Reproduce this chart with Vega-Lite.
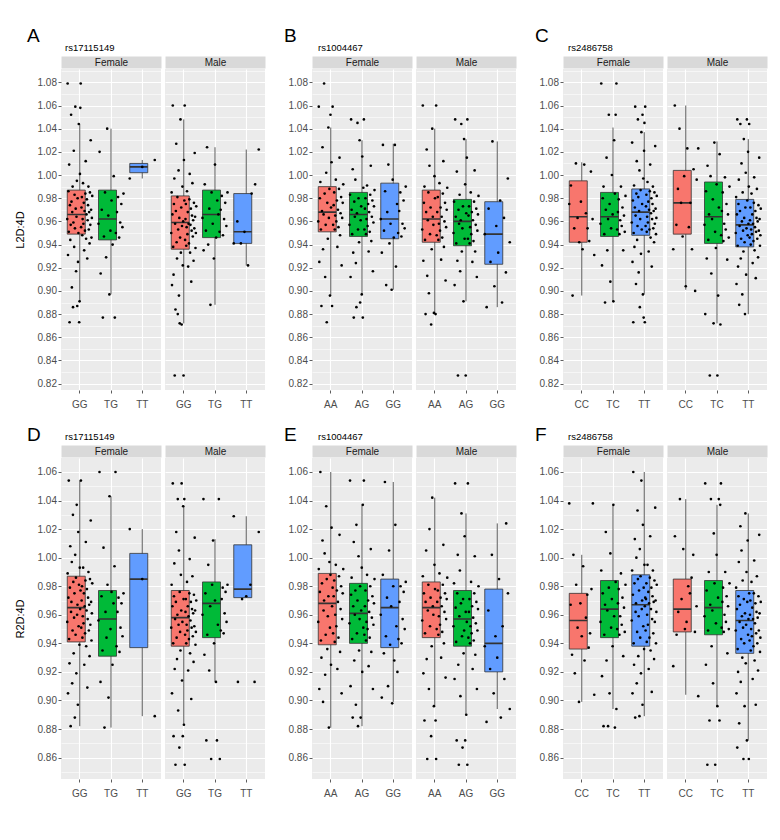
{
"$schema":"https://vega.github.io/schema/vega-lite/v6.json",
"autosize":{"type":"none"},
"padding":{"left":61,"top":69,"right":719,"bottom":771},
"background":"white",
"config":{
 "font":"Liberation Sans Narrow, Liberation Sans, Arial, sans-serif",
 "view":{"fill":"#EBEBEB","stroke":null},
 "axis":{"domain":false,"grid":true,"gridColor":"#FFFFFF","tickColor":"#333333","tickSize":3,"tickWidth":0.8,"labelColor":"#4D4D4D","labelFontSize":10,"titleFontSize":11,"titleFontWeight":"normal","titleColor":"#000000"},
 "axisX":{"labelAngle":0,"labelPadding":6,"gridWidth":1.1,"bandPosition":0.5},
 "axisY":{"labelPadding":1.5,"titlePadding":12,"labelOverlap":false,"tickCount":100},
 "title":{"fontWeight":"normal","color":"#000000","anchor":"start","frame":"group"}
},
"datasets":{
"box":[
{"p":"A","s":"F","g":"GG","lo":0.891,"q1":0.949,"md":0.966,"q3":0.987,"hi":1.044},
{"p":"A","s":"F","g":"TG","lo":0.897,"q1":0.944,"md":0.962,"q3":0.987,"hi":1.040},
{"p":"A","s":"F","g":"TT","lo":0.997,"q1":1.002,"md":1.007,"q3":1.010,"hi":1.013},
{"p":"A","s":"M","g":"GG","lo":0.872,"q1":0.936,"md":0.959,"q3":0.982,"hi":1.048},
{"p":"A","s":"M","g":"TG","lo":0.888,"q1":0.946,"md":0.966,"q3":0.987,"hi":1.024},
{"p":"A","s":"M","g":"TT","lo":0.922,"q1":0.941,"md":0.951,"q3":0.984,"hi":1.022},
{"p":"B","s":"F","g":"AA","lo":0.896,"q1":0.951,"md":0.968,"q3":0.990,"hi":1.041},
{"p":"B","s":"F","g":"AG","lo":0.897,"q1":0.947,"md":0.966,"q3":0.985,"hi":1.030},
{"p":"B","s":"F","g":"GG","lo":0.901,"q1":0.945,"md":0.962,"q3":0.993,"hi":1.027},
{"p":"B","s":"M","g":"AA","lo":0.881,"q1":0.942,"md":0.962,"q3":0.987,"hi":1.040},
{"p":"B","s":"M","g":"AG","lo":0.891,"q1":0.939,"md":0.960,"q3":0.979,"hi":1.031},
{"p":"B","s":"M","g":"GG","lo":0.886,"q1":0.923,"md":0.949,"q3":0.977,"hi":1.029},
{"p":"C","s":"F","g":"CC","lo":0.896,"q1":0.942,"md":0.964,"q3":0.995,"hi":1.011},
{"p":"C","s":"F","g":"TC","lo":0.891,"q1":0.947,"md":0.964,"q3":0.985,"hi":1.041},
{"p":"C","s":"F","g":"TT","lo":0.897,"q1":0.948,"md":0.968,"q3":0.988,"hi":1.037},
{"p":"C","s":"M","g":"CC","lo":0.901,"q1":0.949,"md":0.976,"q3":1.004,"hi":1.060},
{"p":"C","s":"M","g":"TC","lo":0.872,"q1":0.941,"md":0.964,"q3":0.994,"hi":1.029},
{"p":"C","s":"M","g":"TT","lo":0.880,"q1":0.938,"md":0.957,"q3":0.979,"hi":1.031},
{"p":"D","s":"F","g":"GG","lo":0.882,"q1":0.941,"md":0.965,"q3":0.987,"hi":1.054},
{"p":"D","s":"F","g":"TG","lo":0.881,"q1":0.931,"md":0.957,"q3":0.977,"hi":1.043},
{"p":"D","s":"F","g":"TT","lo":0.889,"q1":0.937,"md":0.985,"q3":1.003,"hi":1.020},
{"p":"D","s":"M","g":"GG","lo":0.883,"q1":0.938,"md":0.958,"q3":0.977,"hi":1.036},
{"p":"D","s":"M","g":"TG","lo":0.913,"q1":0.944,"md":0.968,"q3":0.983,"hi":1.013},
{"p":"D","s":"M","g":"TT","lo":0.972,"q1":0.972,"md":0.978,"q3":1.009,"hi":1.029},
{"p":"E","s":"F","g":"AA","lo":0.881,"q1":0.939,"md":0.968,"q3":0.989,"hi":1.060},
{"p":"E","s":"F","g":"AG","lo":0.882,"q1":0.940,"md":0.961,"q3":0.982,"hi":1.037},
{"p":"E","s":"F","g":"GG","lo":0.899,"q1":0.937,"md":0.965,"q3":0.985,"hi":1.053},
{"p":"E","s":"M","g":"AA","lo":0.896,"q1":0.944,"md":0.965,"q3":0.983,"hi":1.042},
{"p":"E","s":"M","g":"AG","lo":0.890,"q1":0.938,"md":0.957,"q3":0.977,"hi":1.031},
{"p":"E","s":"M","g":"GG","lo":0.894,"q1":0.920,"md":0.940,"q3":0.978,"hi":1.024},
{"p":"F","s":"F","g":"CC","lo":0.899,"q1":0.936,"md":0.956,"q3":0.975,"hi":1.002},
{"p":"F","s":"F","g":"TC","lo":0.894,"q1":0.944,"md":0.964,"q3":0.984,"hi":1.037},
{"p":"F","s":"F","g":"TT","lo":0.889,"q1":0.938,"md":0.967,"q3":0.988,"hi":1.060},
{"p":"F","s":"M","g":"CC","lo":0.904,"q1":0.948,"md":0.964,"q3":0.985,"hi":1.041},
{"p":"F","s":"M","g":"TC","lo":0.896,"q1":0.946,"md":0.965,"q3":0.984,"hi":1.037},
{"p":"F","s":"M","g":"TT","lo":0.872,"q1":0.933,"md":0.956,"q3":0.977,"hi":1.031}
],
"AF":[
{"g":"GG","v":0.962},{"g":"GG","v":1.079},{"g":"GG","v":0.931},{"g":"GG","v":0.986},{"g":"GG","v":0.951},{"g":"GG","v":1.009},{"g":"GG","v":0.873},{"g":"GG","v":0.974},{"g":"GG","v":0.944},{"g":"GG","v":0.957},{"g":"GG","v":1.052},{"g":"GG","v":0.977},{"g":"GG","v":0.903},{"g":"GG","v":0.968},{"g":"GG","v":0.99},{"g":"GG","v":0.886},{"g":"GG","v":0.959},{"g":"GG","v":1.021},{"g":"GG","v":0.938},{"g":"GG","v":0.983},{"g":"GG","v":0.954},{"g":"GG","v":1.059},{"g":"GG","v":0.971},{"g":"GG","v":0.917},{"g":"GG","v":0.964},{"g":"GG","v":0.995},{"g":"GG","v":0.887},{"g":"GG","v":0.98},{"g":"GG","v":0.925},{"g":"GG","v":0.95},{"g":"GG","v":1.044},{"g":"GG","v":0.873},{"g":"GG","v":0.891},{"g":"GG","v":1.001},{"g":"GG","v":1.058},{"g":"GG","v":1.079},
{"g":"GG","v":0.955},{"g":"GG","v":0.972},{"g":"GG","v":0.981},{"g":"GG","v":0.948},{"g":"GG","v":0.962},{"g":"GG","v":0.993},{"g":"GG","v":0.958},{"g":"GG","v":0.976},{"g":"GG","v":0.935},{"g":"GG","v":0.969},{"g":"GG","v":0.952},{"g":"GG","v":0.984},{"g":"GG","v":1.012},{"g":"GG","v":0.945},{"g":"GG","v":0.966},{"g":"GG","v":0.979},{"g":"GG","v":0.928},{"g":"GG","v":0.961},{"g":"GG","v":0.974},{"g":"GG","v":0.99},{"g":"GG","v":0.953},{"g":"GG","v":0.968},{"g":"GG","v":0.941},{"g":"GG","v":0.985},{"g":"GG","v":0.957},{"g":"GG","v":1.03},{"g":"GG","v":0.97},{"g":"GG","v":0.946},{"g":"GG","v":0.963},{"g":"GG","v":0.982},
{"g":"TG","v":0.958},{"g":"TG","v":1.02},{"g":"TG","v":0.915},{"g":"TG","v":0.97},{"g":"TG","v":0.877},{"g":"TG","v":0.947},{"g":"TG","v":0.985},{"g":"TG","v":0.929},{"g":"TG","v":1.04},{"g":"TG","v":0.965},{"g":"TG","v":0.897},{"g":"TG","v":0.952},{"g":"TG","v":0.978},{"g":"TG","v":0.94},{"g":"TG","v":0.999},{"g":"TG","v":0.877},
{"g":"TG","v":0.95},{"g":"TG","v":0.968},{"g":"TG","v":0.981},{"g":"TG","v":0.946},{"g":"TG","v":0.959},{"g":"TG","v":0.975},{"g":"TG","v":0.955},{"g":"TG","v":0.984},
{"g":"TT","v":0.997},{"g":"TT","v":1.007},{"g":"TT","v":1.013}
],
"AM":[
{"g":"GG","v":0.95},{"g":"GG","v":0.985},{"g":"GG","v":0.905},{"g":"GG","v":0.966},{"g":"GG","v":1.06},{"g":"GG","v":0.938},{"g":"GG","v":0.914},{"g":"GG","v":0.975},{"g":"GG","v":0.997},{"g":"GG","v":0.827},{"g":"GG","v":0.958},{"g":"GG","v":0.884},{"g":"GG","v":0.969},{"g":"GG","v":1.027},{"g":"GG","v":0.942},{"g":"GG","v":0.928},{"g":"GG","v":0.981},{"g":"GG","v":0.88},{"g":"GG","v":0.953},{"g":"GG","v":1.004},{"g":"GG","v":0.896},{"g":"GG","v":0.963},{"g":"GG","v":0.872},{"g":"GG","v":0.946},{"g":"GG","v":1.048},{"g":"GG","v":0.933},{"g":"GG","v":0.972},{"g":"GG","v":0.871},{"g":"GG","v":0.956},{"g":"GG","v":0.99},{"g":"GG","v":0.922},{"g":"GG","v":0.96},{"g":"GG","v":0.827},{"g":"GG","v":1.013},{"g":"GG","v":0.978},{"g":"GG","v":1.06},
{"g":"GG","v":0.944},{"g":"GG","v":0.962},{"g":"GG","v":0.975},{"g":"GG","v":0.939},{"g":"GG","v":0.955},{"g":"GG","v":0.986},{"g":"GG","v":0.949},{"g":"GG","v":0.968},{"g":"GG","v":0.921},{"g":"GG","v":0.958},{"g":"GG","v":0.941},{"g":"GG","v":0.979},{"g":"GG","v":1.001},{"g":"GG","v":0.933},{"g":"GG","v":0.957},{"g":"GG","v":0.971},{"g":"GG","v":0.908},{"g":"GG","v":0.952},{"g":"GG","v":0.965},{"g":"GG","v":0.993},{"g":"GG","v":0.947},{"g":"GG","v":0.961},{"g":"GG","v":0.926},{"g":"GG","v":0.976},{"g":"GG","v":0.954},{"g":"GG","v":1.019},{"g":"GG","v":0.964},{"g":"GG","v":0.937},{"g":"GG","v":0.95},{"g":"GG","v":0.973},
{"g":"TG","v":0.963},{"g":"TG","v":0.935},{"g":"TG","v":0.992},{"g":"TG","v":0.952},{"g":"TG","v":1.024},{"g":"TG","v":0.94},{"g":"TG","v":0.971},{"g":"TG","v":0.888},{"g":"TG","v":0.985},{"g":"TG","v":0.958},{"g":"TG","v":0.928},{"g":"TG","v":1.009},{"g":"TG","v":0.946},{"g":"TG","v":0.978},{"g":"TG","v":0.966},
{"g":"TG","v":0.951},{"g":"TG","v":0.97},{"g":"TG","v":0.982},{"g":"TG","v":0.948},{"g":"TG","v":0.962},{"g":"TG","v":0.976},{"g":"TG","v":0.956},{"g":"TG","v":0.985},
{"g":"TT","v":0.941},{"g":"TT","v":0.96},{"g":"TT","v":0.941},{"g":"TT","v":0.951},{"g":"TT","v":0.922},{"g":"TT","v":0.984},{"g":"TT","v":0.992},{"g":"TT","v":1.022}
],
"BF":[
{"g":"AA","v":0.96},{"g":"AA","v":1.059},{"g":"AA","v":0.925},{"g":"AA","v":0.98},{"g":"AA","v":0.994},{"g":"AA","v":0.953},{"g":"AA","v":0.887},{"g":"AA","v":0.969},{"g":"AA","v":1.024},{"g":"AA","v":0.936},{"g":"AA","v":0.966},{"g":"AA","v":1.079},{"g":"AA","v":0.984},{"g":"AA","v":0.912},{"g":"AA","v":0.957},{"g":"AA","v":1.002},{"g":"AA","v":0.873},{"g":"AA","v":0.976},{"g":"AA","v":0.945},{"g":"AA","v":1.041},{"g":"AA","v":0.963},{"g":"AA","v":0.988},{"g":"AA","v":0.896},{"g":"AA","v":1.052},{"g":"AA","v":0.972},{"g":"AA","v":1.011},{"g":"AA","v":0.887},{"g":"AA","v":1.059},
{"g":"AA","v":0.957},{"g":"AA","v":0.974},{"g":"AA","v":0.985},{"g":"AA","v":0.953},{"g":"AA","v":0.965},{"g":"AA","v":0.996},{"g":"AA","v":0.96},{"g":"AA","v":0.978},{"g":"AA","v":0.938},{"g":"AA","v":0.97},{"g":"AA","v":0.955},{"g":"AA","v":0.988},{"g":"AA","v":1.015},{"g":"AA","v":0.948},{"g":"AA","v":0.967},{"g":"AA","v":0.981},{"g":"AA","v":0.922},{"g":"AA","v":0.963},{"g":"AA","v":0.976},{"g":"AA","v":0.992},
{"g":"AG","v":0.957},{"g":"AG","v":0.983},{"g":"AG","v":0.912},{"g":"AG","v":1.048},{"g":"AG","v":0.97},{"g":"AG","v":0.949},{"g":"AG","v":1.005},{"g":"AG","v":0.933},{"g":"AG","v":0.877},{"g":"AG","v":0.977},{"g":"AG","v":0.964},{"g":"AG","v":0.996},{"g":"AG","v":0.924},{"g":"AG","v":0.886},{"g":"AG","v":0.967},{"g":"AG","v":1.045},{"g":"AG","v":0.953},{"g":"AG","v":0.98},{"g":"AG","v":0.942},{"g":"AG","v":1.03},{"g":"AG","v":0.89},{"g":"AG","v":0.961},{"g":"AG","v":0.973},{"g":"AG","v":0.897},{"g":"AG","v":1.016},{"g":"AG","v":0.877},{"g":"AG","v":0.989},{"g":"AG","v":1.048},
{"g":"AG","v":0.953},{"g":"AG","v":0.971},{"g":"AG","v":0.98},{"g":"AG","v":0.949},{"g":"AG","v":0.962},{"g":"AG","v":0.991},{"g":"AG","v":0.956},{"g":"AG","v":0.975},{"g":"AG","v":0.934},{"g":"AG","v":0.968},{"g":"AG","v":0.951},{"g":"AG","v":0.983},{"g":"AG","v":1.008},{"g":"AG","v":0.943},{"g":"AG","v":0.964},{"g":"AG","v":0.978},{"g":"AG","v":0.917},{"g":"AG","v":0.959},{"g":"AG","v":0.973},{"g":"AG","v":0.987},
{"g":"GG","v":0.962},{"g":"GG","v":0.933},{"g":"GG","v":1.026},{"g":"GG","v":0.952},{"g":"GG","v":0.986},{"g":"GG","v":0.905},{"g":"GG","v":0.968},{"g":"GG","v":1.009},{"g":"GG","v":0.941},{"g":"GG","v":0.958},{"g":"GG","v":0.901},{"g":"GG","v":0.996},{"g":"GG","v":0.946},{"g":"GG","v":1.026},{"g":"GG","v":0.921},{"g":"GG","v":0.975},
{"g":"GG","v":0.95},{"g":"GG","v":0.969},{"g":"GG","v":0.985},{"g":"GG","v":0.947},{"g":"GG","v":0.958},{"g":"GG","v":0.978},{"g":"GG","v":0.954},{"g":"GG","v":0.99}
],
"BM":[
{"g":"AA","v":0.953},{"g":"AA","v":1.06},{"g":"AA","v":0.926},{"g":"AA","v":0.976},{"g":"AA","v":0.99},{"g":"AA","v":0.944},{"g":"AA","v":0.88},{"g":"AA","v":0.968},{"g":"AA","v":1.022},{"g":"AA","v":0.913},{"g":"AA","v":0.961},{"g":"AA","v":0.985},{"g":"AA","v":0.898},{"g":"AA","v":1.008},{"g":"AA","v":0.949},{"g":"AA","v":0.972},{"g":"AA","v":0.871},{"g":"AA","v":0.936},{"g":"AA","v":1.04},{"g":"AA","v":0.964},{"g":"AA","v":0.957},{"g":"AA","v":0.881},{"g":"AA","v":0.999},{"g":"AA","v":0.98},{"g":"AA","v":0.88},{"g":"AA","v":1.06},
{"g":"AA","v":0.948},{"g":"AA","v":0.968},{"g":"AA","v":0.981},{"g":"AA","v":0.944},{"g":"AA","v":0.958},{"g":"AA","v":0.993},{"g":"AA","v":0.952},{"g":"AA","v":0.972},{"g":"AA","v":0.927},{"g":"AA","v":0.964},{"g":"AA","v":0.946},{"g":"AA","v":0.984},{"g":"AA","v":1.012},{"g":"AA","v":0.938},{"g":"AA","v":0.96},{"g":"AA","v":0.976},{"g":"AA","v":0.909},{"g":"AA","v":0.955},{"g":"AA","v":0.97},{"g":"AA","v":0.989},
{"g":"AG","v":0.95},{"g":"AG","v":0.977},{"g":"AG","v":0.905},{"g":"AG","v":1.048},{"g":"AG","v":0.964},{"g":"AG","v":0.941},{"g":"AG","v":1.003},{"g":"AG","v":0.926},{"g":"AG","v":0.827},{"g":"AG","v":0.97},{"g":"AG","v":0.958},{"g":"AG","v":0.983},{"g":"AG","v":0.917},{"g":"AG","v":0.961},{"g":"AG","v":1.044},{"g":"AG","v":0.934},{"g":"AG","v":0.954},{"g":"AG","v":0.973},{"g":"AG","v":0.891},{"g":"AG","v":1.031},{"g":"AG","v":0.945},{"g":"AG","v":0.992},{"g":"AG","v":0.827},{"g":"AG","v":0.967},{"g":"AG","v":1.015},{"g":"AG","v":1.048},
{"g":"AG","v":0.945},{"g":"AG","v":0.965},{"g":"AG","v":0.973},{"g":"AG","v":0.941},{"g":"AG","v":0.955},{"g":"AG","v":0.985},{"g":"AG","v":0.949},{"g":"AG","v":0.968},{"g":"AG","v":0.925},{"g":"AG","v":0.961},{"g":"AG","v":0.943},{"g":"AG","v":0.977},{"g":"AG","v":1.004},{"g":"AG","v":0.934},{"g":"AG","v":0.957},{"g":"AG","v":0.971},{"g":"AG","v":0.912},{"g":"AG","v":0.952},{"g":"AG","v":0.966},{"g":"AG","v":0.982},
{"g":"GG","v":0.949},{"g":"GG","v":0.886},{"g":"GG","v":0.971},{"g":"GG","v":0.925},{"g":"GG","v":1.029},{"g":"GG","v":0.904},{"g":"GG","v":0.956},{"g":"GG","v":0.933},{"g":"GG","v":0.978},{"g":"GG","v":0.89},{"g":"GG","v":0.963},{"g":"GG","v":0.916},{"g":"GG","v":0.997},{"g":"GG","v":0.942}
],
"CF":[
{"g":"CC","v":0.975},{"g":"CC","v":0.991},{"g":"CC","v":0.896},{"g":"CC","v":0.954},{"g":"CC","v":1.01},{"g":"CC","v":0.963},{"g":"CC","v":0.942},{"g":"CC","v":0.977},{"g":"CC","v":0.936},{"g":"CC","v":1.009},{"g":"CC","v":0.967},{"g":"CC","v":0.954},{"g":"CC","v":0.943},{"g":"CC","v":1.003},{"g":"CC","v":0.962},{"g":"CC","v":0.931},
{"g":"TC","v":0.958},{"g":"TC","v":1.079},{"g":"TC","v":0.922},{"g":"TC","v":0.98},{"g":"TC","v":0.99},{"g":"TC","v":0.949},{"g":"TC","v":0.89},{"g":"TC","v":0.97},{"g":"TC","v":1.015},{"g":"TC","v":0.935},{"g":"TC","v":0.962},{"g":"TC","v":1.052},{"g":"TC","v":0.975},{"g":"TC","v":0.908},{"g":"TC","v":0.954},{"g":"TC","v":1.0},{"g":"TC","v":0.966},{"g":"TC","v":0.891},{"g":"TC","v":1.03},{"g":"TC","v":0.984},{"g":"TC","v":1.052},{"g":"TC","v":1.079},
{"g":"TC","v":0.953},{"g":"TC","v":0.968},{"g":"TC","v":0.979},{"g":"TC","v":0.949},{"g":"TC","v":0.961},{"g":"TC","v":0.99},{"g":"TC","v":0.956},{"g":"TC","v":0.972},{"g":"TC","v":0.935},{"g":"TC","v":0.965},{"g":"TC","v":0.951},{"g":"TC","v":0.982},
{"g":"TT","v":0.959},{"g":"TT","v":1.028},{"g":"TT","v":0.925},{"g":"TT","v":0.978},{"g":"TT","v":0.873},{"g":"TT","v":0.95},{"g":"TT","v":0.991},{"g":"TT","v":0.938},{"g":"TT","v":0.972},{"g":"TT","v":1.059},{"g":"TT","v":0.965},{"g":"TT","v":0.906},{"g":"TT","v":0.984},{"g":"TT","v":1.012},{"g":"TT","v":0.944},{"g":"TT","v":0.956},{"g":"TT","v":1.048},{"g":"TT","v":0.981},{"g":"TT","v":0.916},{"g":"TT","v":0.969},{"g":"TT","v":1.004},{"g":"TT","v":0.886},{"g":"TT","v":0.962},{"g":"TT","v":0.987},{"g":"TT","v":0.932},{"g":"TT","v":1.037},{"g":"TT","v":0.953},{"g":"TT","v":0.975},{"g":"TT","v":1.052},{"g":"TT","v":0.897},{"g":"TT","v":0.997},{"g":"TT","v":0.877},{"g":"TT","v":1.021},{"g":"TT","v":1.045},{"g":"TT","v":0.873},{"g":"TT","v":1.059},
{"g":"TT","v":0.956},{"g":"TT","v":0.973},{"g":"TT","v":0.983},{"g":"TT","v":0.951},{"g":"TT","v":0.964},{"g":"TT","v":0.994},{"g":"TT","v":0.959},{"g":"TT","v":0.977},{"g":"TT","v":0.934},{"g":"TT","v":0.97},{"g":"TT","v":0.953},{"g":"TT","v":0.986},{"g":"TT","v":1.009},{"g":"TT","v":0.946},{"g":"TT","v":0.967},{"g":"TT","v":0.98},{"g":"TT","v":0.921},{"g":"TT","v":0.962},{"g":"TT","v":0.975},{"g":"TT","v":0.99},{"g":"TT","v":0.954},{"g":"TT","v":0.969},{"g":"TT","v":0.942},{"g":"TT","v":0.985},{"g":"TT","v":0.958},{"g":"TT","v":1.025},{"g":"TT","v":0.971},{"g":"TT","v":0.949},{"g":"TT","v":0.963},{"g":"TT","v":0.982}
],
"CM":[
{"g":"CC","v":0.936},{"g":"CC","v":1.06},{"g":"CC","v":0.957},{"g":"CC","v":0.988},{"g":"CC","v":1.04},{"g":"CC","v":0.976},{"g":"CC","v":0.947},{"g":"CC","v":0.999},{"g":"CC","v":0.904},{"g":"CC","v":1.023},{"g":"CC","v":0.955},{"g":"CC","v":0.976},{"g":"CC","v":0.936},{"g":"CC","v":1.005},{"g":"CC","v":0.9},{"g":"CC","v":0.996},{"g":"CC","v":1.023},
{"g":"TC","v":0.957},{"g":"TC","v":0.88},{"g":"TC","v":0.986},{"g":"TC","v":0.928},{"g":"TC","v":1.008},{"g":"TC","v":0.944},{"g":"TC","v":0.966},{"g":"TC","v":0.827},{"g":"TC","v":0.999},{"g":"TC","v":0.915},{"g":"TC","v":0.962},{"g":"TC","v":0.979},{"g":"TC","v":0.872},{"g":"TC","v":1.028},{"g":"TC","v":0.951},{"g":"TC","v":0.937},{"g":"TC","v":0.992},{"g":"TC","v":0.827},{"g":"TC","v":0.896},{"g":"TC","v":0.972},{"g":"TC","v":1.018},{"g":"TC","v":0.871},
{"g":"TC","v":0.948},{"g":"TC","v":0.969},{"g":"TC","v":0.985},{"g":"TC","v":0.943},{"g":"TC","v":0.958},{"g":"TC","v":0.998},{"g":"TC","v":0.953},{"g":"TC","v":0.975},{"g":"TC","v":0.927},{"g":"TC","v":0.966},{"g":"TC","v":0.946},{"g":"TC","v":0.99},
{"g":"TT","v":0.95},{"g":"TT","v":0.981},{"g":"TT","v":0.906},{"g":"TT","v":0.966},{"g":"TT","v":1.048},{"g":"TT","v":0.939},{"g":"TT","v":0.921},{"g":"TT","v":0.975},{"g":"TT","v":0.996},{"g":"TT","v":0.888},{"g":"TT","v":0.956},{"g":"TT","v":0.969},{"g":"TT","v":1.044},{"g":"TT","v":0.928},{"g":"TT","v":0.945},{"g":"TT","v":1.01},{"g":"TT","v":0.96},{"g":"TT","v":0.897},{"g":"TT","v":0.985},{"g":"TT","v":0.952},{"g":"TT","v":0.934},{"g":"TT","v":1.031},{"g":"TT","v":0.963},{"g":"TT","v":0.942},{"g":"TT","v":0.88},{"g":"TT","v":0.972},{"g":"TT","v":1.002},{"g":"TT","v":0.914},{"g":"TT","v":0.954},{"g":"TT","v":1.048},{"g":"TT","v":0.978},{"g":"TT","v":0.948},{"g":"TT","v":1.02},{"g":"TT","v":0.958},{"g":"TT","v":0.99},{"g":"TT","v":1.044},
{"g":"TT","v":0.946},{"g":"TT","v":0.961},{"g":"TT","v":0.972},{"g":"TT","v":0.94},{"g":"TT","v":0.953},{"g":"TT","v":0.984},{"g":"TT","v":0.949},{"g":"TT","v":0.966},{"g":"TT","v":0.924},{"g":"TT","v":0.958},{"g":"TT","v":0.943},{"g":"TT","v":0.976},{"g":"TT","v":0.998},{"g":"TT","v":0.935},{"g":"TT","v":0.955},{"g":"TT","v":0.969},{"g":"TT","v":0.911},{"g":"TT","v":0.951},{"g":"TT","v":0.963},{"g":"TT","v":0.988},{"g":"TT","v":0.945},{"g":"TT","v":0.96},{"g":"TT","v":0.929},{"g":"TT","v":0.974},{"g":"TT","v":0.952},{"g":"TT","v":1.015},{"g":"TT","v":0.962},{"g":"TT","v":0.939},{"g":"TT","v":0.948},{"g":"TT","v":0.971}
],
"DF":[
{"g":"GG","v":0.955},{"g":"GG","v":0.989},{"g":"GG","v":0.905},{"g":"GG","v":0.972},{"g":"GG","v":1.054},{"g":"GG","v":0.943},{"g":"GG","v":0.926},{"g":"GG","v":0.979},{"g":"GG","v":1.008},{"g":"GG","v":0.882},{"g":"GG","v":0.962},{"g":"GG","v":0.969},{"g":"GG","v":0.997},{"g":"GG","v":0.912},{"g":"GG","v":0.949},{"g":"GG","v":1.03},{"g":"GG","v":0.983},{"g":"GG","v":0.933},{"g":"GG","v":0.958},{"g":"GG","v":0.975},{"g":"GG","v":0.888},{"g":"GG","v":1.002},{"g":"GG","v":0.946},{"g":"GG","v":0.986},{"g":"GG","v":0.919},{"g":"GG","v":1.037},{"g":"GG","v":0.96},{"g":"GG","v":0.967},{"g":"GG","v":0.897},{"g":"GG","v":1.018},{"g":"GG","v":0.952},{"g":"GG","v":0.981},{"g":"GG","v":0.939},{"g":"GG","v":0.993},{"g":"GG","v":0.964},{"g":"GG","v":0.977},{"g":"GG","v":1.054},
{"g":"GG","v":0.951},{"g":"GG","v":0.97},{"g":"GG","v":0.98},{"g":"GG","v":0.944},{"g":"GG","v":0.959},{"g":"GG","v":0.993},{"g":"GG","v":0.954},{"g":"GG","v":0.975},{"g":"GG","v":0.925},{"g":"GG","v":0.966},{"g":"GG","v":0.947},{"g":"GG","v":0.984},{"g":"GG","v":1.011},{"g":"GG","v":0.938},{"g":"GG","v":0.963},{"g":"GG","v":0.978},{"g":"GG","v":0.909},{"g":"GG","v":0.957},{"g":"GG","v":0.972},{"g":"GG","v":0.99},{"g":"GG","v":0.949},{"g":"GG","v":0.967},{"g":"GG","v":0.931},{"g":"GG","v":0.985},{"g":"GG","v":0.953},{"g":"GG","v":1.026},{"g":"GG","v":0.969},{"g":"GG","v":0.942},{"g":"GG","v":0.961},{"g":"GG","v":0.982},
{"g":"TG","v":0.956},{"g":"TG","v":1.06},{"g":"TG","v":0.913},{"g":"TG","v":0.973},{"g":"TG","v":0.935},{"g":"TG","v":1.007},{"g":"TG","v":0.881},{"g":"TG","v":0.962},{"g":"TG","v":0.944},{"g":"TG","v":0.981},{"g":"TG","v":0.902},{"g":"TG","v":1.043},{"g":"TG","v":0.95},{"g":"TG","v":0.976},{"g":"TG","v":0.925},{"g":"TG","v":0.968},{"g":"TG","v":0.994},{"g":"TG","v":1.06},
{"g":"TG","v":0.938},{"g":"TG","v":0.962},{"g":"TG","v":0.972},{"g":"TG","v":0.934},{"g":"TG","v":0.951},{"g":"TG","v":0.968},{"g":"TG","v":0.945},{"g":"TG","v":0.975},
{"g":"TT","v":1.02},{"g":"TT","v":0.985},{"g":"TT","v":0.889}
],
"DM":[
{"g":"GG","v":0.951},{"g":"GG","v":0.981},{"g":"GG","v":0.905},{"g":"GG","v":0.966},{"g":"GG","v":1.052},{"g":"GG","v":0.94},{"g":"GG","v":0.875},{"g":"GG","v":0.973},{"g":"GG","v":0.996},{"g":"GG","v":0.922},{"g":"GG","v":0.957},{"g":"GG","v":0.855},{"g":"GG","v":0.969},{"g":"GG","v":1.018},{"g":"GG","v":0.944},{"g":"GG","v":0.929},{"g":"GG","v":0.96},{"g":"GG","v":1.041},{"g":"GG","v":0.893},{"g":"GG","v":0.953},{"g":"GG","v":1.005},{"g":"GG","v":0.867},{"g":"GG","v":0.976},{"g":"GG","v":0.948},{"g":"GG","v":0.935},{"g":"GG","v":0.988},{"g":"GG","v":0.963},{"g":"GG","v":1.052},{"g":"GG","v":0.914},{"g":"GG","v":0.955},{"g":"GG","v":0.875},{"g":"GG","v":1.036},{"g":"GG","v":0.971},{"g":"GG","v":0.883},{"g":"GG","v":1.041},{"g":"GG","v":0.855},
{"g":"GG","v":0.946},{"g":"GG","v":0.962},{"g":"GG","v":0.971},{"g":"GG","v":0.94},{"g":"GG","v":0.953},{"g":"GG","v":0.983},{"g":"GG","v":0.949},{"g":"GG","v":0.966},{"g":"GG","v":0.921},{"g":"GG","v":0.959},{"g":"GG","v":0.943},{"g":"GG","v":0.975},{"g":"GG","v":0.999},{"g":"GG","v":0.933},{"g":"GG","v":0.956},{"g":"GG","v":0.969},{"g":"GG","v":0.901},{"g":"GG","v":0.951},{"g":"GG","v":0.964},{"g":"GG","v":0.987},{"g":"GG","v":0.945},{"g":"GG","v":0.961},{"g":"GG","v":0.927},{"g":"GG","v":0.974},{"g":"GG","v":0.952},{"g":"GG","v":1.014},{"g":"GG","v":0.963},{"g":"GG","v":0.939},{"g":"GG","v":0.948},{"g":"GG","v":0.97},
{"g":"TG","v":0.96},{"g":"TG","v":1.041},{"g":"TG","v":0.932},{"g":"TG","v":0.975},{"g":"TG","v":0.872},{"g":"TG","v":0.946},{"g":"TG","v":0.995},{"g":"TG","v":0.921},{"g":"TG","v":0.966},{"g":"TG","v":0.859},{"g":"TG","v":0.981},{"g":"TG","v":1.012},{"g":"TG","v":0.94},{"g":"TG","v":0.97},{"g":"TG","v":0.913},{"g":"TG","v":0.872},{"g":"TG","v":0.953},{"g":"TG","v":1.041},{"g":"TG","v":0.859},
{"g":"TG","v":0.949},{"g":"TG","v":0.971},{"g":"TG","v":0.979},{"g":"TG","v":0.947},{"g":"TG","v":0.961},{"g":"TG","v":0.976},{"g":"TG","v":0.955},{"g":"TG","v":0.981},
{"g":"TT","v":1.029},{"g":"TT","v":0.913},{"g":"TT","v":0.971},{"g":"TT","v":0.973},{"g":"TT","v":0.981},{"g":"TT","v":0.913},{"g":"TT","v":1.018}
],
"EF":[
{"g":"AA","v":0.955},{"g":"AA","v":0.992},{"g":"AA","v":0.908},{"g":"AA","v":0.976},{"g":"AA","v":1.06},{"g":"AA","v":0.942},{"g":"AA","v":0.93},{"g":"AA","v":0.982},{"g":"AA","v":1.012},{"g":"AA","v":0.899},{"g":"AA","v":0.963},{"g":"AA","v":0.97},{"g":"AA","v":1.003},{"g":"AA","v":0.918},{"g":"AA","v":0.946},{"g":"AA","v":1.036},{"g":"AA","v":0.985},{"g":"AA","v":0.936},{"g":"AA","v":0.959},{"g":"AA","v":0.973},{"g":"AA","v":0.881},{"g":"AA","v":0.997},{"g":"AA","v":0.951},{"g":"AA","v":0.988},{"g":"AA","v":0.925},{"g":"AA","v":1.021},{"g":"AA","v":0.966},{"g":"AA","v":0.979},
{"g":"AA","v":0.947},{"g":"AA","v":0.973},{"g":"AA","v":0.984},{"g":"AA","v":0.941},{"g":"AA","v":0.96},{"g":"AA","v":0.995},{"g":"AA","v":0.952},{"g":"AA","v":0.977},{"g":"AA","v":0.922},{"g":"AA","v":0.969},{"g":"AA","v":0.944},{"g":"AA","v":0.987},{"g":"AA","v":1.016},{"g":"AA","v":0.934},{"g":"AA","v":0.964},{"g":"AA","v":0.98},{"g":"AA","v":0.905},{"g":"AA","v":0.957},{"g":"AA","v":0.975},{"g":"AA","v":0.992},
{"g":"AG","v":0.954},{"g":"AG","v":1.054},{"g":"AG","v":0.91},{"g":"AG","v":0.974},{"g":"AG","v":0.986},{"g":"AG","v":0.943},{"g":"AG","v":0.888},{"g":"AG","v":0.966},{"g":"AG","v":1.011},{"g":"AG","v":0.928},{"g":"AG","v":0.96},{"g":"AG","v":0.977},{"g":"AG","v":0.897},{"g":"AG","v":1.023},{"g":"AG","v":0.947},{"g":"AG","v":0.97},{"g":"AG","v":0.882},{"g":"AG","v":1.001},{"g":"AG","v":0.935},{"g":"AG","v":0.957},{"g":"AG","v":0.98},{"g":"AG","v":0.888},{"g":"AG","v":0.963},{"g":"AG","v":0.993},{"g":"AG","v":0.92},{"g":"AG","v":1.037},{"g":"AG","v":0.951},{"g":"AG","v":1.054},
{"g":"AG","v":0.946},{"g":"AG","v":0.966},{"g":"AG","v":0.977},{"g":"AG","v":0.942},{"g":"AG","v":0.955},{"g":"AG","v":0.988},{"g":"AG","v":0.95},{"g":"AG","v":0.97},{"g":"AG","v":0.924},{"g":"AG","v":0.962},{"g":"AG","v":0.944},{"g":"AG","v":0.98},{"g":"AG","v":1.006},{"g":"AG","v":0.934},{"g":"AG","v":0.958},{"g":"AG","v":0.973},{"g":"AG","v":0.908},{"g":"AG","v":0.953},{"g":"AG","v":0.968},{"g":"AG","v":0.985},
{"g":"GG","v":0.96},{"g":"GG","v":0.902},{"g":"GG","v":0.988},{"g":"GG","v":0.933},{"g":"GG","v":1.053},{"g":"GG","v":0.945},{"g":"GG","v":0.972},{"g":"GG","v":0.91},{"g":"GG","v":1.005},{"g":"GG","v":0.939},{"g":"GG","v":0.966},{"g":"GG","v":0.898},{"g":"GG","v":0.98},{"g":"GG","v":0.928},{"g":"GG","v":1.023},{"g":"GG","v":0.952},{"g":"GG","v":0.92},
{"g":"GG","v":0.943},{"g":"GG","v":0.969},{"g":"GG","v":0.98},{"g":"GG","v":0.94},{"g":"GG","v":0.957},{"g":"GG","v":0.976},{"g":"GG","v":0.95},{"g":"GG","v":0.983}
],
"EM":[
{"g":"AA","v":0.956},{"g":"AA","v":0.987},{"g":"AA","v":0.919},{"g":"AA","v":0.975},{"g":"AA","v":0.886},{"g":"AA","v":0.947},{"g":"AA","v":0.969},{"g":"AA","v":1.005},{"g":"AA","v":0.929},{"g":"AA","v":0.859},{"g":"AA","v":0.963},{"g":"AA","v":0.981},{"g":"AA","v":0.908},{"g":"AA","v":1.02},{"g":"AA","v":0.952},{"g":"AA","v":0.972},{"g":"AA","v":0.875},{"g":"AA","v":0.938},{"g":"AA","v":1.042},{"g":"AA","v":0.966},{"g":"AA","v":0.96},{"g":"AA","v":0.896},{"g":"AA","v":0.995},{"g":"AA","v":0.978},{"g":"AA","v":0.886},{"g":"AA","v":0.859},
{"g":"AA","v":0.95},{"g":"AA","v":0.969},{"g":"AA","v":0.977},{"g":"AA","v":0.946},{"g":"AA","v":0.959},{"g":"AA","v":0.989},{"g":"AA","v":0.953},{"g":"AA","v":0.972},{"g":"AA","v":0.93},{"g":"AA","v":0.966},{"g":"AA","v":0.948},{"g":"AA","v":0.981},{"g":"AA","v":1.009},{"g":"AA","v":0.94},{"g":"AA","v":0.962},{"g":"AA","v":0.975},{"g":"AA","v":0.916},{"g":"AA","v":0.957},{"g":"AA","v":0.971},{"g":"AA","v":0.986},
{"g":"AG","v":0.952},{"g":"AG","v":0.982},{"g":"AG","v":0.915},{"g":"AG","v":1.052},{"g":"AG","v":0.965},{"g":"AG","v":0.941},{"g":"AG","v":0.872},{"g":"AG","v":0.975},{"g":"AG","v":1.002},{"g":"AG","v":0.925},{"g":"AG","v":0.855},{"g":"AG","v":0.959},{"g":"AG","v":0.991},{"g":"AG","v":0.903},{"g":"AG","v":0.968},{"g":"AG","v":1.031},{"g":"AG","v":0.945},{"g":"AG","v":0.867},{"g":"AG","v":0.971},{"g":"AG","v":0.933},{"g":"AG","v":0.949},{"g":"AG","v":1.015},{"g":"AG","v":0.872},{"g":"AG","v":0.962},{"g":"AG","v":0.89},{"g":"AG","v":0.955},{"g":"AG","v":0.855},{"g":"AG","v":1.052},
{"g":"AG","v":0.944},{"g":"AG","v":0.962},{"g":"AG","v":0.971},{"g":"AG","v":0.94},{"g":"AG","v":0.952},{"g":"AG","v":0.983},{"g":"AG","v":0.947},{"g":"AG","v":0.966},{"g":"AG","v":0.922},{"g":"AG","v":0.958},{"g":"AG","v":0.942},{"g":"AG","v":0.975},{"g":"AG","v":1.001},{"g":"AG","v":0.932},{"g":"AG","v":0.954},{"g":"AG","v":0.969},{"g":"AG","v":0.908},{"g":"AG","v":0.949},{"g":"AG","v":0.964},{"g":"AG","v":0.98},
{"g":"GG","v":0.938},{"g":"GG","v":0.885},{"g":"GG","v":0.963},{"g":"GG","v":0.922},{"g":"GG","v":1.002},{"g":"GG","v":0.905},{"g":"GG","v":0.945},{"g":"GG","v":0.93},{"g":"GG","v":0.985},{"g":"GG","v":0.888},{"g":"GG","v":0.952},{"g":"GG","v":0.915},{"g":"GG","v":1.024},{"g":"GG","v":0.975},{"g":"GG","v":0.894}
],
"FF":[
{"g":"CC","v":1.038},{"g":"CC","v":0.967},{"g":"CC","v":0.932},{"g":"CC","v":1.002},{"g":"CC","v":0.919},{"g":"CC","v":0.981},{"g":"CC","v":0.951},{"g":"CC","v":0.899},{"g":"CC","v":0.968},{"g":"CC","v":0.945},{"g":"CC","v":0.994},{"g":"CC","v":0.928},{"g":"CC","v":0.958},{"g":"CC","v":0.974},{"g":"CC","v":0.937},{"g":"CC","v":0.947},{"g":"CC","v":0.978},{"g":"CC","v":1.038},{"g":"CC","v":0.904},
{"g":"TC","v":0.955},{"g":"TC","v":0.991},{"g":"TC","v":0.917},{"g":"TC","v":0.975},{"g":"TC","v":0.882},{"g":"TC","v":0.946},{"g":"TC","v":0.967},{"g":"TC","v":1.018},{"g":"TC","v":0.928},{"g":"TC","v":0.963},{"g":"TC","v":0.882},{"g":"TC","v":0.979},{"g":"TC","v":0.905},{"g":"TC","v":1.003},{"g":"TC","v":0.951},{"g":"TC","v":0.971},{"g":"TC","v":0.938},{"g":"TC","v":1.037},{"g":"TC","v":0.959},{"g":"TC","v":0.881},{"g":"TC","v":0.983},{"g":"TC","v":0.894},
{"g":"TC","v":0.95},{"g":"TC","v":0.968},{"g":"TC","v":0.978},{"g":"TC","v":0.946},{"g":"TC","v":0.959},{"g":"TC","v":0.989},{"g":"TC","v":0.953},{"g":"TC","v":0.972},{"g":"TC","v":0.931},{"g":"TC","v":0.965},{"g":"TC","v":0.948},{"g":"TC","v":0.981},
{"g":"TT","v":0.956},{"g":"TT","v":0.991},{"g":"TT","v":0.905},{"g":"TT","v":0.974},{"g":"TT","v":1.06},{"g":"TT","v":0.94},{"g":"TT","v":0.925},{"g":"TT","v":0.982},{"g":"TT","v":1.013},{"g":"TT","v":0.888},{"g":"TT","v":0.962},{"g":"TT","v":0.968},{"g":"TT","v":1.0},{"g":"TT","v":0.912},{"g":"TT","v":0.948},{"g":"TT","v":1.033},{"g":"TT","v":0.985},{"g":"TT","v":0.931},{"g":"TT","v":0.959},{"g":"TT","v":0.977},{"g":"TT","v":0.889},{"g":"TT","v":1.006},{"g":"TT","v":0.944},{"g":"TT","v":0.987},{"g":"TT","v":0.919},{"g":"TT","v":1.054},{"g":"TT","v":0.964},{"g":"TT","v":0.97},{"g":"TT","v":0.897},{"g":"TT","v":1.023},{"g":"TT","v":0.952},{"g":"TT","v":0.979},{"g":"TT","v":0.936},{"g":"TT","v":0.995},{"g":"TT","v":0.966},{"g":"TT","v":0.972},
{"g":"TT","v":0.949},{"g":"TT","v":0.971},{"g":"TT","v":0.982},{"g":"TT","v":0.941},{"g":"TT","v":0.96},{"g":"TT","v":0.995},{"g":"TT","v":0.953},{"g":"TT","v":0.976},{"g":"TT","v":0.922},{"g":"TT","v":0.968},{"g":"TT","v":0.944},{"g":"TT","v":0.986},{"g":"TT","v":1.015},{"g":"TT","v":0.935},{"g":"TT","v":0.964},{"g":"TT","v":0.979},{"g":"TT","v":0.906},{"g":"TT","v":0.957},{"g":"TT","v":0.973},{"g":"TT","v":0.991},{"g":"TT","v":0.947},{"g":"TT","v":0.969},{"g":"TT","v":0.929},{"g":"TT","v":0.984},{"g":"TT","v":0.955},{"g":"TT","v":1.035},{"g":"TT","v":0.97},{"g":"TT","v":0.94},{"g":"TT","v":0.962},{"g":"TT","v":0.981}
],
"FM":[
{"g":"CC","v":0.924},{"g":"CC","v":1.015},{"g":"CC","v":0.946},{"g":"CC","v":0.962},{"g":"CC","v":1.041},{"g":"CC","v":0.971},{"g":"CC","v":1.006},{"g":"CC","v":0.95},{"g":"CC","v":0.955},{"g":"CC","v":0.98},{"g":"CC","v":0.975},{"g":"CC","v":0.986},{"g":"CC","v":1.002},{"g":"CC","v":0.948},{"g":"CC","v":0.966},{"g":"CC","v":0.903},
{"g":"TC","v":0.959},{"g":"TC","v":1.052},{"g":"TC","v":0.925},{"g":"TC","v":0.977},{"g":"TC","v":0.855},{"g":"TC","v":0.949},{"g":"TC","v":0.99},{"g":"TC","v":0.886},{"g":"TC","v":0.967},{"g":"TC","v":1.041},{"g":"TC","v":0.938},{"g":"TC","v":0.963},{"g":"TC","v":0.912},{"g":"TC","v":1.017},{"g":"TC","v":0.982},{"g":"TC","v":0.855},{"g":"TC","v":0.954},{"g":"TC","v":1.002},{"g":"TC","v":0.896},{"g":"TC","v":0.972},{"g":"TC","v":1.041},{"g":"TC","v":0.886},{"g":"TC","v":1.037},{"g":"TC","v":1.052},
{"g":"TC","v":0.951},{"g":"TC","v":0.969},{"g":"TC","v":0.979},{"g":"TC","v":0.948},{"g":"TC","v":0.96},{"g":"TC","v":0.99},{"g":"TC","v":0.955},{"g":"TC","v":0.973},{"g":"TC","v":0.933},{"g":"TC","v":0.966},{"g":"TC","v":0.95},{"g":"TC","v":0.982},
{"g":"TT","v":0.949},{"g":"TT","v":0.979},{"g":"TT","v":0.905},{"g":"TT","v":0.964},{"g":"TT","v":0.867},{"g":"TT","v":0.936},{"g":"TT","v":0.92},{"g":"TT","v":0.973},{"g":"TT","v":0.997},{"g":"TT","v":0.884},{"g":"TT","v":0.955},{"g":"TT","v":0.967},{"g":"TT","v":1.022},{"g":"TT","v":0.913},{"g":"TT","v":0.943},{"g":"TT","v":1.005},{"g":"TT","v":0.959},{"g":"TT","v":0.93},{"g":"TT","v":0.984},{"g":"TT","v":0.951},{"g":"TT","v":0.859},{"g":"TT","v":0.971},{"g":"TT","v":0.94},{"g":"TT","v":0.896},{"g":"TT","v":0.961},{"g":"TT","v":1.031},{"g":"TT","v":0.926},{"g":"TT","v":0.953},{"g":"TT","v":0.99},{"g":"TT","v":0.872},{"g":"TT","v":0.969},{"g":"TT","v":1.012},{"g":"TT","v":0.946},{"g":"TT","v":0.957},{"g":"TT","v":0.859},{"g":"TT","v":0.975},
{"g":"TT","v":0.942},{"g":"TT","v":0.96},{"g":"TT","v":0.97},{"g":"TT","v":0.935},{"g":"TT","v":0.95},{"g":"TT","v":0.983},{"g":"TT","v":0.945},{"g":"TT","v":0.965},{"g":"TT","v":0.915},{"g":"TT","v":0.957},{"g":"TT","v":0.938},{"g":"TT","v":0.975},{"g":"TT","v":0.998},{"g":"TT","v":0.928},{"g":"TT","v":0.954},{"g":"TT","v":0.968},{"g":"TT","v":0.897},{"g":"TT","v":0.947},{"g":"TT","v":0.962},{"g":"TT","v":0.987},{"g":"TT","v":0.94},{"g":"TT","v":0.958},{"g":"TT","v":0.921},{"g":"TT","v":0.973},{"g":"TT","v":0.949},{"g":"TT","v":1.016},{"g":"TT","v":0.961},{"g":"TT","v":0.934},{"g":"TT","v":0.944},{"g":"TT","v":0.969}
]
},
"vconcat":[
{"hconcat":[
 {"title":{"text":"A","dx":-34,"dy":18.3,"fontSize":19,"offset":0,"baseline":"alphabetic"},"spacing":4,"bounds":"flush","resolve":{"scale":{"xOffset":"independent"}},
  "hconcat":[
  {"width":100,"height":321,"title":{"text":"rs17115149","dx":4,"dy":9,"fontSize":9.5,"offset":6,"baseline":"alphabetic"},
   "resolve":{"scale":{"x":"independent","xOffset":"independent"},"axis":{"x":"independent"}},
   "layer":[
    {"encoding":{"x":{"field":"g","type":"nominal","sort":null,"scale":{"type":"band","domain":["GG","TG","TT"],"paddingInner":0,"paddingOuter":0.1},"axis":{"title":null,"orient":"bottom"}}},
     "layer":[
      {"data":{"name":"box"},"transform":[{"filter":"datum.p=='A'&&datum.s=='F'"}],"layer":[
       {"mark":{"type":"rule","color":"#333333","strokeWidth":0.8},"encoding":{"y":{"field":"lo","type":"quantitative","title":"L2D:4D","scale":{"domain":[0.8145,1.0915],"nice":false,"zero":false},"axis":{"values":[0.82,0.83,0.84,0.85,0.86,0.87,0.88,0.89,0.9,0.91,0.92,0.93,0.94,0.95,0.96,0.97,0.98,0.99,1,1.01,1.02,1.03,1.04,1.05,1.06,1.07,1.08,1.09],"tickCount":100,"labelOverlap":false,"labelExpr":"round(datum.value*100)%2==0?format(datum.value,'.2f'):''","gridWidth":{"condition":{"test":"round(datum.value*100)%2==0","value":1.1},"value":0.55},"tickOpacity":{"condition":{"test":"round(datum.value*100)%2==0","value":1},"value":0}}},"y2":{"field":"hi"}}},
       {"mark":{"type":"bar","width":{"band":0.8},"stroke":"#333333","strokeWidth":0.8},"encoding":{"y":{"field":"q1","type":"quantitative","title":"L2D:4D","scale":{"domain":[0.8145,1.0915],"nice":false,"zero":false}},"y2":{"field":"q3"},"fill":{"field":"g","type":"nominal","scale":{"domain":["GG","TG","TT"],"range":["#F8766D","#00BA38","#619CFF"]},"legend":null}}},
       {"mark":{"type":"bar","width":{"band":0.8},"stroke":"#333333","strokeWidth":1.6,"fillOpacity":0},"encoding":{"y":{"field":"md","type":"quantitative","title":"L2D:4D","scale":{"domain":[0.8145,1.0915],"nice":false,"zero":false}},"y2":{"field":"md"}}}
      ]},
      {"data":{"name":"AF"},"transform":[{"window":[{"op":"row_number","as":"rn"}]},{"window":[{"op":"percent_rank","as":"j"}],"groupby":["g"],"sort":[{"field":"rn"}]}],
       "mark":{"type":"circle","size":7,"color":"#000000","opacity":1},
       "encoding":{"xOffset":{"field":"j","type":"quantitative","scale":{"domain":[-0.125,1.125]}},"y":{"field":"v","type":"quantitative","title":"L2D:4D","scale":{"domain":[0.8145,1.0915],"nice":false,"zero":false}}}}
     ]},
    {"data":{"values":[{"s":"Female"}]},"mark":{"type":"text","opacity":0},"encoding":{"text":{"field":"s","type":"nominal"},"x":{"field":"s","type":"nominal","scale":{"type":"band"},"axis":{"orient":"top","title":"Female","titleY":0,"titleBaseline":"middle","titleFontSize":10,"titleColor":"#1A1A1A","titlePadding":0,"labels":false,"ticks":false,"domain":true,"domainColor":"#D9D9D9","domainWidth":12,"offset":7,"grid":false}}}}
   ]},
  {"width":100,"height":321,
   "resolve":{"scale":{"x":"independent","xOffset":"independent"},"axis":{"x":"independent"}},
   "layer":[
    {"encoding":{"x":{"field":"g","type":"nominal","sort":null,"scale":{"type":"band","domain":["GG","TG","TT"],"paddingInner":0,"paddingOuter":0.1},"axis":{"title":null,"orient":"bottom"}}},
     "layer":[
      {"data":{"name":"box"},"transform":[{"filter":"datum.p=='A'&&datum.s=='M'"}],"layer":[
       {"mark":{"type":"rule","color":"#333333","strokeWidth":0.8},"encoding":{"y":{"field":"lo","type":"quantitative","title":null,"scale":{"domain":[0.8145,1.0915],"nice":false,"zero":false},"axis":{"values":[0.82,0.83,0.84,0.85,0.86,0.87,0.88,0.89,0.9,0.91,0.92,0.93,0.94,0.95,0.96,0.97,0.98,0.99,1,1.01,1.02,1.03,1.04,1.05,1.06,1.07,1.08,1.09],"tickCount":100,"labels":false,"ticks":false,"gridWidth":{"condition":{"test":"round(datum.value*100)%2==0","value":1.1},"value":0.55}}},"y2":{"field":"hi"}}},
       {"mark":{"type":"bar","width":{"band":0.8},"stroke":"#333333","strokeWidth":0.8},"encoding":{"y":{"field":"q1","type":"quantitative","title":null,"scale":{"domain":[0.8145,1.0915],"nice":false,"zero":false}},"y2":{"field":"q3"},"fill":{"field":"g","type":"nominal","scale":{"domain":["GG","TG","TT"],"range":["#F8766D","#00BA38","#619CFF"]},"legend":null}}},
       {"mark":{"type":"bar","width":{"band":0.8},"stroke":"#333333","strokeWidth":1.6,"fillOpacity":0},"encoding":{"y":{"field":"md","type":"quantitative","title":null,"scale":{"domain":[0.8145,1.0915],"nice":false,"zero":false}},"y2":{"field":"md"}}}
      ]},
      {"data":{"name":"AM"},"transform":[{"window":[{"op":"row_number","as":"rn"}]},{"window":[{"op":"percent_rank","as":"j"}],"groupby":["g"],"sort":[{"field":"rn"}]}],
       "mark":{"type":"circle","size":7,"color":"#000000","opacity":1},
       "encoding":{"xOffset":{"field":"j","type":"quantitative","scale":{"domain":[-0.125,1.125]}},"y":{"field":"v","type":"quantitative","title":null,"scale":{"domain":[0.8145,1.0915],"nice":false,"zero":false}}}}
     ]},
    {"data":{"values":[{"s":"Male"}]},"mark":{"type":"text","opacity":0},"encoding":{"text":{"field":"s","type":"nominal"},"x":{"field":"s","type":"nominal","scale":{"type":"band"},"axis":{"orient":"top","title":"Male","titleY":0,"titleBaseline":"middle","titleFontSize":10,"titleColor":"#1A1A1A","titlePadding":0,"labels":false,"ticks":false,"domain":true,"domainColor":"#D9D9D9","domainWidth":12,"offset":7,"grid":false}}}}
   ]}
 ]},
 {"title":{"text":"B","dx":-28,"dy":18.3,"fontSize":19,"offset":0,"baseline":"alphabetic"},"spacing":4,"bounds":"flush","resolve":{"scale":{"xOffset":"independent"}},
  "hconcat":[
  {"width":100,"height":321,"title":{"text":"rs1004467","dx":6,"dy":9,"fontSize":9.5,"offset":6,"baseline":"alphabetic"},
   "resolve":{"scale":{"x":"independent","xOffset":"independent"},"axis":{"x":"independent"}},
   "layer":[
    {"encoding":{"x":{"field":"g","type":"nominal","sort":null,"scale":{"type":"band","domain":["AA","AG","GG"],"paddingInner":0,"paddingOuter":0.1},"axis":{"title":null,"orient":"bottom"}}},
     "layer":[
      {"data":{"name":"box"},"transform":[{"filter":"datum.p=='B'&&datum.s=='F'"}],"layer":[
       {"mark":{"type":"rule","color":"#333333","strokeWidth":0.8},"encoding":{"y":{"field":"lo","type":"quantitative","title":null,"scale":{"domain":[0.8145,1.0915],"nice":false,"zero":false},"axis":{"values":[0.82,0.83,0.84,0.85,0.86,0.87,0.88,0.89,0.9,0.91,0.92,0.93,0.94,0.95,0.96,0.97,0.98,0.99,1,1.01,1.02,1.03,1.04,1.05,1.06,1.07,1.08,1.09],"tickCount":100,"labelOverlap":false,"labelExpr":"round(datum.value*100)%2==0?format(datum.value,'.2f'):''","gridWidth":{"condition":{"test":"round(datum.value*100)%2==0","value":1.1},"value":0.55},"tickOpacity":{"condition":{"test":"round(datum.value*100)%2==0","value":1},"value":0}}},"y2":{"field":"hi"}}},
       {"mark":{"type":"bar","width":{"band":0.8},"stroke":"#333333","strokeWidth":0.8},"encoding":{"y":{"field":"q1","type":"quantitative","title":null,"scale":{"domain":[0.8145,1.0915],"nice":false,"zero":false}},"y2":{"field":"q3"},"fill":{"field":"g","type":"nominal","scale":{"domain":["AA","AG","GG"],"range":["#F8766D","#00BA38","#619CFF"]},"legend":null}}},
       {"mark":{"type":"bar","width":{"band":0.8},"stroke":"#333333","strokeWidth":1.6,"fillOpacity":0},"encoding":{"y":{"field":"md","type":"quantitative","title":null,"scale":{"domain":[0.8145,1.0915],"nice":false,"zero":false}},"y2":{"field":"md"}}}
      ]},
      {"data":{"name":"BF"},"transform":[{"window":[{"op":"row_number","as":"rn"}]},{"window":[{"op":"percent_rank","as":"j"}],"groupby":["g"],"sort":[{"field":"rn"}]}],
       "mark":{"type":"circle","size":7,"color":"#000000","opacity":1},
       "encoding":{"xOffset":{"field":"j","type":"quantitative","scale":{"domain":[-0.125,1.125]}},"y":{"field":"v","type":"quantitative","title":null,"scale":{"domain":[0.8145,1.0915],"nice":false,"zero":false}}}}
     ]},
    {"data":{"values":[{"s":"Female"}]},"mark":{"type":"text","opacity":0},"encoding":{"text":{"field":"s","type":"nominal"},"x":{"field":"s","type":"nominal","scale":{"type":"band"},"axis":{"orient":"top","title":"Female","titleY":0,"titleBaseline":"middle","titleFontSize":10,"titleColor":"#1A1A1A","titlePadding":0,"labels":false,"ticks":false,"domain":true,"domainColor":"#D9D9D9","domainWidth":12,"offset":7,"grid":false}}}}
   ]},
  {"width":100,"height":321,
   "resolve":{"scale":{"x":"independent","xOffset":"independent"},"axis":{"x":"independent"}},
   "layer":[
    {"encoding":{"x":{"field":"g","type":"nominal","sort":null,"scale":{"type":"band","domain":["AA","AG","GG"],"paddingInner":0,"paddingOuter":0.1},"axis":{"title":null,"orient":"bottom"}}},
     "layer":[
      {"data":{"name":"box"},"transform":[{"filter":"datum.p=='B'&&datum.s=='M'"}],"layer":[
       {"mark":{"type":"rule","color":"#333333","strokeWidth":0.8},"encoding":{"y":{"field":"lo","type":"quantitative","title":null,"scale":{"domain":[0.8145,1.0915],"nice":false,"zero":false},"axis":{"values":[0.82,0.83,0.84,0.85,0.86,0.87,0.88,0.89,0.9,0.91,0.92,0.93,0.94,0.95,0.96,0.97,0.98,0.99,1,1.01,1.02,1.03,1.04,1.05,1.06,1.07,1.08,1.09],"tickCount":100,"labels":false,"ticks":false,"gridWidth":{"condition":{"test":"round(datum.value*100)%2==0","value":1.1},"value":0.55}}},"y2":{"field":"hi"}}},
       {"mark":{"type":"bar","width":{"band":0.8},"stroke":"#333333","strokeWidth":0.8},"encoding":{"y":{"field":"q1","type":"quantitative","title":null,"scale":{"domain":[0.8145,1.0915],"nice":false,"zero":false}},"y2":{"field":"q3"},"fill":{"field":"g","type":"nominal","scale":{"domain":["AA","AG","GG"],"range":["#F8766D","#00BA38","#619CFF"]},"legend":null}}},
       {"mark":{"type":"bar","width":{"band":0.8},"stroke":"#333333","strokeWidth":1.6,"fillOpacity":0},"encoding":{"y":{"field":"md","type":"quantitative","title":null,"scale":{"domain":[0.8145,1.0915],"nice":false,"zero":false}},"y2":{"field":"md"}}}
      ]},
      {"data":{"name":"BM"},"transform":[{"window":[{"op":"row_number","as":"rn"}]},{"window":[{"op":"percent_rank","as":"j"}],"groupby":["g"],"sort":[{"field":"rn"}]}],
       "mark":{"type":"circle","size":7,"color":"#000000","opacity":1},
       "encoding":{"xOffset":{"field":"j","type":"quantitative","scale":{"domain":[-0.125,1.125]}},"y":{"field":"v","type":"quantitative","title":null,"scale":{"domain":[0.8145,1.0915],"nice":false,"zero":false}}}}
     ]},
    {"data":{"values":[{"s":"Male"}]},"mark":{"type":"text","opacity":0},"encoding":{"text":{"field":"s","type":"nominal"},"x":{"field":"s","type":"nominal","scale":{"type":"band"},"axis":{"orient":"top","title":"Male","titleY":0,"titleBaseline":"middle","titleFontSize":10,"titleColor":"#1A1A1A","titlePadding":0,"labels":false,"ticks":false,"domain":true,"domainColor":"#D9D9D9","domainWidth":12,"offset":7,"grid":false}}}}
   ]}
 ]},
 {"title":{"text":"C","dx":-28,"dy":18.3,"fontSize":19,"offset":0,"baseline":"alphabetic"},"spacing":4,"bounds":"flush","resolve":{"scale":{"xOffset":"independent"}},
  "hconcat":[
  {"width":100,"height":321,"title":{"text":"rs2486758","dx":5,"dy":9,"fontSize":9.5,"offset":6,"baseline":"alphabetic"},
   "resolve":{"scale":{"x":"independent","xOffset":"independent"},"axis":{"x":"independent"}},
   "layer":[
    {"encoding":{"x":{"field":"g","type":"nominal","sort":null,"scale":{"type":"band","domain":["CC","TC","TT"],"paddingInner":0,"paddingOuter":0.1},"axis":{"title":null,"orient":"bottom"}}},
     "layer":[
      {"data":{"name":"box"},"transform":[{"filter":"datum.p=='C'&&datum.s=='F'"}],"layer":[
       {"mark":{"type":"rule","color":"#333333","strokeWidth":0.8},"encoding":{"y":{"field":"lo","type":"quantitative","title":null,"scale":{"domain":[0.8145,1.0915],"nice":false,"zero":false},"axis":{"values":[0.82,0.83,0.84,0.85,0.86,0.87,0.88,0.89,0.9,0.91,0.92,0.93,0.94,0.95,0.96,0.97,0.98,0.99,1,1.01,1.02,1.03,1.04,1.05,1.06,1.07,1.08,1.09],"tickCount":100,"labelOverlap":false,"labelExpr":"round(datum.value*100)%2==0?format(datum.value,'.2f'):''","gridWidth":{"condition":{"test":"round(datum.value*100)%2==0","value":1.1},"value":0.55},"tickOpacity":{"condition":{"test":"round(datum.value*100)%2==0","value":1},"value":0}}},"y2":{"field":"hi"}}},
       {"mark":{"type":"bar","width":{"band":0.8},"stroke":"#333333","strokeWidth":0.8},"encoding":{"y":{"field":"q1","type":"quantitative","title":null,"scale":{"domain":[0.8145,1.0915],"nice":false,"zero":false}},"y2":{"field":"q3"},"fill":{"field":"g","type":"nominal","scale":{"domain":["CC","TC","TT"],"range":["#F8766D","#00BA38","#619CFF"]},"legend":null}}},
       {"mark":{"type":"bar","width":{"band":0.8},"stroke":"#333333","strokeWidth":1.6,"fillOpacity":0},"encoding":{"y":{"field":"md","type":"quantitative","title":null,"scale":{"domain":[0.8145,1.0915],"nice":false,"zero":false}},"y2":{"field":"md"}}}
      ]},
      {"data":{"name":"CF"},"transform":[{"window":[{"op":"row_number","as":"rn"}]},{"window":[{"op":"percent_rank","as":"j"}],"groupby":["g"],"sort":[{"field":"rn"}]}],
       "mark":{"type":"circle","size":7,"color":"#000000","opacity":1},
       "encoding":{"xOffset":{"field":"j","type":"quantitative","scale":{"domain":[-0.125,1.125]}},"y":{"field":"v","type":"quantitative","title":null,"scale":{"domain":[0.8145,1.0915],"nice":false,"zero":false}}}}
     ]},
    {"data":{"values":[{"s":"Female"}]},"mark":{"type":"text","opacity":0},"encoding":{"text":{"field":"s","type":"nominal"},"x":{"field":"s","type":"nominal","scale":{"type":"band"},"axis":{"orient":"top","title":"Female","titleY":0,"titleBaseline":"middle","titleFontSize":10,"titleColor":"#1A1A1A","titlePadding":0,"labels":false,"ticks":false,"domain":true,"domainColor":"#D9D9D9","domainWidth":12,"offset":7,"grid":false}}}}
   ]},
  {"width":100,"height":321,
   "resolve":{"scale":{"x":"independent","xOffset":"independent"},"axis":{"x":"independent"}},
   "layer":[
    {"encoding":{"x":{"field":"g","type":"nominal","sort":null,"scale":{"type":"band","domain":["CC","TC","TT"],"paddingInner":0,"paddingOuter":0.1},"axis":{"title":null,"orient":"bottom"}}},
     "layer":[
      {"data":{"name":"box"},"transform":[{"filter":"datum.p=='C'&&datum.s=='M'"}],"layer":[
       {"mark":{"type":"rule","color":"#333333","strokeWidth":0.8},"encoding":{"y":{"field":"lo","type":"quantitative","title":null,"scale":{"domain":[0.8145,1.0915],"nice":false,"zero":false},"axis":{"values":[0.82,0.83,0.84,0.85,0.86,0.87,0.88,0.89,0.9,0.91,0.92,0.93,0.94,0.95,0.96,0.97,0.98,0.99,1,1.01,1.02,1.03,1.04,1.05,1.06,1.07,1.08,1.09],"tickCount":100,"labels":false,"ticks":false,"gridWidth":{"condition":{"test":"round(datum.value*100)%2==0","value":1.1},"value":0.55}}},"y2":{"field":"hi"}}},
       {"mark":{"type":"bar","width":{"band":0.8},"stroke":"#333333","strokeWidth":0.8},"encoding":{"y":{"field":"q1","type":"quantitative","title":null,"scale":{"domain":[0.8145,1.0915],"nice":false,"zero":false}},"y2":{"field":"q3"},"fill":{"field":"g","type":"nominal","scale":{"domain":["CC","TC","TT"],"range":["#F8766D","#00BA38","#619CFF"]},"legend":null}}},
       {"mark":{"type":"bar","width":{"band":0.8},"stroke":"#333333","strokeWidth":1.6,"fillOpacity":0},"encoding":{"y":{"field":"md","type":"quantitative","title":null,"scale":{"domain":[0.8145,1.0915],"nice":false,"zero":false}},"y2":{"field":"md"}}}
      ]},
      {"data":{"name":"CM"},"transform":[{"window":[{"op":"row_number","as":"rn"}]},{"window":[{"op":"percent_rank","as":"j"}],"groupby":["g"],"sort":[{"field":"rn"}]}],
       "mark":{"type":"circle","size":7,"color":"#000000","opacity":1},
       "encoding":{"xOffset":{"field":"j","type":"quantitative","scale":{"domain":[-0.125,1.125]}},"y":{"field":"v","type":"quantitative","title":null,"scale":{"domain":[0.8145,1.0915],"nice":false,"zero":false}}}}
     ]},
    {"data":{"values":[{"s":"Male"}]},"mark":{"type":"text","opacity":0},"encoding":{"text":{"field":"s","type":"nominal"},"x":{"field":"s","type":"nominal","scale":{"type":"band"},"axis":{"orient":"top","title":"Male","titleY":0,"titleBaseline":"middle","titleFontSize":10,"titleColor":"#1A1A1A","titlePadding":0,"labels":false,"ticks":false,"domain":true,"domainColor":"#D9D9D9","domainWidth":12,"offset":7,"grid":false}}}}
   ]}
 ]}
],"spacing":19,"resolve":{"scale":{"fill":"independent","xOffset":"independent"}}},
{"hconcat":[
 {"title":{"text":"D","dx":-34,"dy":28.3,"fontSize":19,"offset":0,"baseline":"alphabetic"},"spacing":4,"bounds":"flush","resolve":{"scale":{"xOffset":"independent"}},
  "hconcat":[
  {"width":100,"height":321,"title":{"text":"rs17115149","dx":4,"dy":9,"fontSize":9.5,"offset":6,"baseline":"alphabetic"},
   "resolve":{"scale":{"x":"independent","xOffset":"independent"},"axis":{"x":"independent"}},
   "layer":[
    {"encoding":{"x":{"field":"g","type":"nominal","sort":null,"scale":{"type":"band","domain":["GG","TG","TT"],"paddingInner":0,"paddingOuter":0.1},"axis":{"title":null,"orient":"bottom"}}},
     "layer":[
      {"data":{"name":"box"},"transform":[{"filter":"datum.p=='D'&&datum.s=='F'"}],"layer":[
       {"mark":{"type":"rule","color":"#333333","strokeWidth":0.8},"encoding":{"y":{"field":"lo","type":"quantitative","title":"R2D:4D","scale":{"domain":[0.845,1.0698],"nice":false,"zero":false},"axis":{"values":[0.85,0.86,0.87,0.88,0.89,0.9,0.91,0.92,0.93,0.94,0.95,0.96,0.97,0.98,0.99,1,1.01,1.02,1.03,1.04,1.05,1.06],"tickCount":100,"labelOverlap":false,"labelExpr":"round(datum.value*100)%2==0?format(datum.value,'.2f'):''","gridWidth":{"condition":{"test":"round(datum.value*100)%2==0","value":1.1},"value":0.55},"tickOpacity":{"condition":{"test":"round(datum.value*100)%2==0","value":1},"value":0}}},"y2":{"field":"hi"}}},
       {"mark":{"type":"bar","width":{"band":0.8},"stroke":"#333333","strokeWidth":0.8},"encoding":{"y":{"field":"q1","type":"quantitative","title":"R2D:4D","scale":{"domain":[0.845,1.0698],"nice":false,"zero":false}},"y2":{"field":"q3"},"fill":{"field":"g","type":"nominal","scale":{"domain":["GG","TG","TT"],"range":["#F8766D","#00BA38","#619CFF"]},"legend":null}}},
       {"mark":{"type":"bar","width":{"band":0.8},"stroke":"#333333","strokeWidth":1.6,"fillOpacity":0},"encoding":{"y":{"field":"md","type":"quantitative","title":"R2D:4D","scale":{"domain":[0.845,1.0698],"nice":false,"zero":false}},"y2":{"field":"md"}}}
      ]},
      {"data":{"name":"DF"},"transform":[{"window":[{"op":"row_number","as":"rn"}]},{"window":[{"op":"percent_rank","as":"j"}],"groupby":["g"],"sort":[{"field":"rn"}]}],
       "mark":{"type":"circle","size":7,"color":"#000000","opacity":1},
       "encoding":{"xOffset":{"field":"j","type":"quantitative","scale":{"domain":[-0.125,1.125]}},"y":{"field":"v","type":"quantitative","title":"R2D:4D","scale":{"domain":[0.845,1.0698],"nice":false,"zero":false}}}}
     ]},
    {"data":{"values":[{"s":"Female"}]},"mark":{"type":"text","opacity":0},"encoding":{"text":{"field":"s","type":"nominal"},"x":{"field":"s","type":"nominal","scale":{"type":"band"},"axis":{"orient":"top","title":"Female","titleY":0,"titleBaseline":"middle","titleFontSize":10,"titleColor":"#1A1A1A","titlePadding":0,"labels":false,"ticks":false,"domain":true,"domainColor":"#D9D9D9","domainWidth":12,"offset":7,"grid":false}}}}
   ]},
  {"width":100,"height":321,
   "resolve":{"scale":{"x":"independent","xOffset":"independent"},"axis":{"x":"independent"}},
   "layer":[
    {"encoding":{"x":{"field":"g","type":"nominal","sort":null,"scale":{"type":"band","domain":["GG","TG","TT"],"paddingInner":0,"paddingOuter":0.1},"axis":{"title":null,"orient":"bottom"}}},
     "layer":[
      {"data":{"name":"box"},"transform":[{"filter":"datum.p=='D'&&datum.s=='M'"}],"layer":[
       {"mark":{"type":"rule","color":"#333333","strokeWidth":0.8},"encoding":{"y":{"field":"lo","type":"quantitative","title":null,"scale":{"domain":[0.845,1.0698],"nice":false,"zero":false},"axis":{"values":[0.85,0.86,0.87,0.88,0.89,0.9,0.91,0.92,0.93,0.94,0.95,0.96,0.97,0.98,0.99,1,1.01,1.02,1.03,1.04,1.05,1.06],"tickCount":100,"labels":false,"ticks":false,"gridWidth":{"condition":{"test":"round(datum.value*100)%2==0","value":1.1},"value":0.55}}},"y2":{"field":"hi"}}},
       {"mark":{"type":"bar","width":{"band":0.8},"stroke":"#333333","strokeWidth":0.8},"encoding":{"y":{"field":"q1","type":"quantitative","title":null,"scale":{"domain":[0.845,1.0698],"nice":false,"zero":false}},"y2":{"field":"q3"},"fill":{"field":"g","type":"nominal","scale":{"domain":["GG","TG","TT"],"range":["#F8766D","#00BA38","#619CFF"]},"legend":null}}},
       {"mark":{"type":"bar","width":{"band":0.8},"stroke":"#333333","strokeWidth":1.6,"fillOpacity":0},"encoding":{"y":{"field":"md","type":"quantitative","title":null,"scale":{"domain":[0.845,1.0698],"nice":false,"zero":false}},"y2":{"field":"md"}}}
      ]},
      {"data":{"name":"DM"},"transform":[{"window":[{"op":"row_number","as":"rn"}]},{"window":[{"op":"percent_rank","as":"j"}],"groupby":["g"],"sort":[{"field":"rn"}]}],
       "mark":{"type":"circle","size":7,"color":"#000000","opacity":1},
       "encoding":{"xOffset":{"field":"j","type":"quantitative","scale":{"domain":[-0.125,1.125]}},"y":{"field":"v","type":"quantitative","title":null,"scale":{"domain":[0.845,1.0698],"nice":false,"zero":false}}}}
     ]},
    {"data":{"values":[{"s":"Male"}]},"mark":{"type":"text","opacity":0},"encoding":{"text":{"field":"s","type":"nominal"},"x":{"field":"s","type":"nominal","scale":{"type":"band"},"axis":{"orient":"top","title":"Male","titleY":0,"titleBaseline":"middle","titleFontSize":10,"titleColor":"#1A1A1A","titlePadding":0,"labels":false,"ticks":false,"domain":true,"domainColor":"#D9D9D9","domainWidth":12,"offset":7,"grid":false}}}}
   ]}
 ]},
 {"title":{"text":"E","dx":-28,"dy":28.3,"fontSize":19,"offset":0,"baseline":"alphabetic"},"spacing":4,"bounds":"flush","resolve":{"scale":{"xOffset":"independent"}},
  "hconcat":[
  {"width":100,"height":321,"title":{"text":"rs1004467","dx":6,"dy":9,"fontSize":9.5,"offset":6,"baseline":"alphabetic"},
   "resolve":{"scale":{"x":"independent","xOffset":"independent"},"axis":{"x":"independent"}},
   "layer":[
    {"encoding":{"x":{"field":"g","type":"nominal","sort":null,"scale":{"type":"band","domain":["AA","AG","GG"],"paddingInner":0,"paddingOuter":0.1},"axis":{"title":null,"orient":"bottom"}}},
     "layer":[
      {"data":{"name":"box"},"transform":[{"filter":"datum.p=='E'&&datum.s=='F'"}],"layer":[
       {"mark":{"type":"rule","color":"#333333","strokeWidth":0.8},"encoding":{"y":{"field":"lo","type":"quantitative","title":null,"scale":{"domain":[0.845,1.0698],"nice":false,"zero":false},"axis":{"values":[0.85,0.86,0.87,0.88,0.89,0.9,0.91,0.92,0.93,0.94,0.95,0.96,0.97,0.98,0.99,1,1.01,1.02,1.03,1.04,1.05,1.06],"tickCount":100,"labelOverlap":false,"labelExpr":"round(datum.value*100)%2==0?format(datum.value,'.2f'):''","gridWidth":{"condition":{"test":"round(datum.value*100)%2==0","value":1.1},"value":0.55},"tickOpacity":{"condition":{"test":"round(datum.value*100)%2==0","value":1},"value":0}}},"y2":{"field":"hi"}}},
       {"mark":{"type":"bar","width":{"band":0.8},"stroke":"#333333","strokeWidth":0.8},"encoding":{"y":{"field":"q1","type":"quantitative","title":null,"scale":{"domain":[0.845,1.0698],"nice":false,"zero":false}},"y2":{"field":"q3"},"fill":{"field":"g","type":"nominal","scale":{"domain":["AA","AG","GG"],"range":["#F8766D","#00BA38","#619CFF"]},"legend":null}}},
       {"mark":{"type":"bar","width":{"band":0.8},"stroke":"#333333","strokeWidth":1.6,"fillOpacity":0},"encoding":{"y":{"field":"md","type":"quantitative","title":null,"scale":{"domain":[0.845,1.0698],"nice":false,"zero":false}},"y2":{"field":"md"}}}
      ]},
      {"data":{"name":"EF"},"transform":[{"window":[{"op":"row_number","as":"rn"}]},{"window":[{"op":"percent_rank","as":"j"}],"groupby":["g"],"sort":[{"field":"rn"}]}],
       "mark":{"type":"circle","size":7,"color":"#000000","opacity":1},
       "encoding":{"xOffset":{"field":"j","type":"quantitative","scale":{"domain":[-0.125,1.125]}},"y":{"field":"v","type":"quantitative","title":null,"scale":{"domain":[0.845,1.0698],"nice":false,"zero":false}}}}
     ]},
    {"data":{"values":[{"s":"Female"}]},"mark":{"type":"text","opacity":0},"encoding":{"text":{"field":"s","type":"nominal"},"x":{"field":"s","type":"nominal","scale":{"type":"band"},"axis":{"orient":"top","title":"Female","titleY":0,"titleBaseline":"middle","titleFontSize":10,"titleColor":"#1A1A1A","titlePadding":0,"labels":false,"ticks":false,"domain":true,"domainColor":"#D9D9D9","domainWidth":12,"offset":7,"grid":false}}}}
   ]},
  {"width":100,"height":321,
   "resolve":{"scale":{"x":"independent","xOffset":"independent"},"axis":{"x":"independent"}},
   "layer":[
    {"encoding":{"x":{"field":"g","type":"nominal","sort":null,"scale":{"type":"band","domain":["AA","AG","GG"],"paddingInner":0,"paddingOuter":0.1},"axis":{"title":null,"orient":"bottom"}}},
     "layer":[
      {"data":{"name":"box"},"transform":[{"filter":"datum.p=='E'&&datum.s=='M'"}],"layer":[
       {"mark":{"type":"rule","color":"#333333","strokeWidth":0.8},"encoding":{"y":{"field":"lo","type":"quantitative","title":null,"scale":{"domain":[0.845,1.0698],"nice":false,"zero":false},"axis":{"values":[0.85,0.86,0.87,0.88,0.89,0.9,0.91,0.92,0.93,0.94,0.95,0.96,0.97,0.98,0.99,1,1.01,1.02,1.03,1.04,1.05,1.06],"tickCount":100,"labels":false,"ticks":false,"gridWidth":{"condition":{"test":"round(datum.value*100)%2==0","value":1.1},"value":0.55}}},"y2":{"field":"hi"}}},
       {"mark":{"type":"bar","width":{"band":0.8},"stroke":"#333333","strokeWidth":0.8},"encoding":{"y":{"field":"q1","type":"quantitative","title":null,"scale":{"domain":[0.845,1.0698],"nice":false,"zero":false}},"y2":{"field":"q3"},"fill":{"field":"g","type":"nominal","scale":{"domain":["AA","AG","GG"],"range":["#F8766D","#00BA38","#619CFF"]},"legend":null}}},
       {"mark":{"type":"bar","width":{"band":0.8},"stroke":"#333333","strokeWidth":1.6,"fillOpacity":0},"encoding":{"y":{"field":"md","type":"quantitative","title":null,"scale":{"domain":[0.845,1.0698],"nice":false,"zero":false}},"y2":{"field":"md"}}}
      ]},
      {"data":{"name":"EM"},"transform":[{"window":[{"op":"row_number","as":"rn"}]},{"window":[{"op":"percent_rank","as":"j"}],"groupby":["g"],"sort":[{"field":"rn"}]}],
       "mark":{"type":"circle","size":7,"color":"#000000","opacity":1},
       "encoding":{"xOffset":{"field":"j","type":"quantitative","scale":{"domain":[-0.125,1.125]}},"y":{"field":"v","type":"quantitative","title":null,"scale":{"domain":[0.845,1.0698],"nice":false,"zero":false}}}}
     ]},
    {"data":{"values":[{"s":"Male"}]},"mark":{"type":"text","opacity":0},"encoding":{"text":{"field":"s","type":"nominal"},"x":{"field":"s","type":"nominal","scale":{"type":"band"},"axis":{"orient":"top","title":"Male","titleY":0,"titleBaseline":"middle","titleFontSize":10,"titleColor":"#1A1A1A","titlePadding":0,"labels":false,"ticks":false,"domain":true,"domainColor":"#D9D9D9","domainWidth":12,"offset":7,"grid":false}}}}
   ]}
 ]},
 {"title":{"text":"F","dx":-28,"dy":28.3,"fontSize":19,"offset":0,"baseline":"alphabetic"},"spacing":4,"bounds":"flush","resolve":{"scale":{"xOffset":"independent"}},
  "hconcat":[
  {"width":100,"height":321,"title":{"text":"rs2486758","dx":5,"dy":9,"fontSize":9.5,"offset":6,"baseline":"alphabetic"},
   "resolve":{"scale":{"x":"independent","xOffset":"independent"},"axis":{"x":"independent"}},
   "layer":[
    {"encoding":{"x":{"field":"g","type":"nominal","sort":null,"scale":{"type":"band","domain":["CC","TC","TT"],"paddingInner":0,"paddingOuter":0.1},"axis":{"title":null,"orient":"bottom"}}},
     "layer":[
      {"data":{"name":"box"},"transform":[{"filter":"datum.p=='F'&&datum.s=='F'"}],"layer":[
       {"mark":{"type":"rule","color":"#333333","strokeWidth":0.8},"encoding":{"y":{"field":"lo","type":"quantitative","title":null,"scale":{"domain":[0.845,1.0698],"nice":false,"zero":false},"axis":{"values":[0.85,0.86,0.87,0.88,0.89,0.9,0.91,0.92,0.93,0.94,0.95,0.96,0.97,0.98,0.99,1,1.01,1.02,1.03,1.04,1.05,1.06],"tickCount":100,"labelOverlap":false,"labelExpr":"round(datum.value*100)%2==0?format(datum.value,'.2f'):''","gridWidth":{"condition":{"test":"round(datum.value*100)%2==0","value":1.1},"value":0.55},"tickOpacity":{"condition":{"test":"round(datum.value*100)%2==0","value":1},"value":0}}},"y2":{"field":"hi"}}},
       {"mark":{"type":"bar","width":{"band":0.8},"stroke":"#333333","strokeWidth":0.8},"encoding":{"y":{"field":"q1","type":"quantitative","title":null,"scale":{"domain":[0.845,1.0698],"nice":false,"zero":false}},"y2":{"field":"q3"},"fill":{"field":"g","type":"nominal","scale":{"domain":["CC","TC","TT"],"range":["#F8766D","#00BA38","#619CFF"]},"legend":null}}},
       {"mark":{"type":"bar","width":{"band":0.8},"stroke":"#333333","strokeWidth":1.6,"fillOpacity":0},"encoding":{"y":{"field":"md","type":"quantitative","title":null,"scale":{"domain":[0.845,1.0698],"nice":false,"zero":false}},"y2":{"field":"md"}}}
      ]},
      {"data":{"name":"FF"},"transform":[{"window":[{"op":"row_number","as":"rn"}]},{"window":[{"op":"percent_rank","as":"j"}],"groupby":["g"],"sort":[{"field":"rn"}]}],
       "mark":{"type":"circle","size":7,"color":"#000000","opacity":1},
       "encoding":{"xOffset":{"field":"j","type":"quantitative","scale":{"domain":[-0.125,1.125]}},"y":{"field":"v","type":"quantitative","title":null,"scale":{"domain":[0.845,1.0698],"nice":false,"zero":false}}}}
     ]},
    {"data":{"values":[{"s":"Female"}]},"mark":{"type":"text","opacity":0},"encoding":{"text":{"field":"s","type":"nominal"},"x":{"field":"s","type":"nominal","scale":{"type":"band"},"axis":{"orient":"top","title":"Female","titleY":0,"titleBaseline":"middle","titleFontSize":10,"titleColor":"#1A1A1A","titlePadding":0,"labels":false,"ticks":false,"domain":true,"domainColor":"#D9D9D9","domainWidth":12,"offset":7,"grid":false}}}}
   ]},
  {"width":100,"height":321,
   "resolve":{"scale":{"x":"independent","xOffset":"independent"},"axis":{"x":"independent"}},
   "layer":[
    {"encoding":{"x":{"field":"g","type":"nominal","sort":null,"scale":{"type":"band","domain":["CC","TC","TT"],"paddingInner":0,"paddingOuter":0.1},"axis":{"title":null,"orient":"bottom"}}},
     "layer":[
      {"data":{"name":"box"},"transform":[{"filter":"datum.p=='F'&&datum.s=='M'"}],"layer":[
       {"mark":{"type":"rule","color":"#333333","strokeWidth":0.8},"encoding":{"y":{"field":"lo","type":"quantitative","title":null,"scale":{"domain":[0.845,1.0698],"nice":false,"zero":false},"axis":{"values":[0.85,0.86,0.87,0.88,0.89,0.9,0.91,0.92,0.93,0.94,0.95,0.96,0.97,0.98,0.99,1,1.01,1.02,1.03,1.04,1.05,1.06],"tickCount":100,"labels":false,"ticks":false,"gridWidth":{"condition":{"test":"round(datum.value*100)%2==0","value":1.1},"value":0.55}}},"y2":{"field":"hi"}}},
       {"mark":{"type":"bar","width":{"band":0.8},"stroke":"#333333","strokeWidth":0.8},"encoding":{"y":{"field":"q1","type":"quantitative","title":null,"scale":{"domain":[0.845,1.0698],"nice":false,"zero":false}},"y2":{"field":"q3"},"fill":{"field":"g","type":"nominal","scale":{"domain":["CC","TC","TT"],"range":["#F8766D","#00BA38","#619CFF"]},"legend":null}}},
       {"mark":{"type":"bar","width":{"band":0.8},"stroke":"#333333","strokeWidth":1.6,"fillOpacity":0},"encoding":{"y":{"field":"md","type":"quantitative","title":null,"scale":{"domain":[0.845,1.0698],"nice":false,"zero":false}},"y2":{"field":"md"}}}
      ]},
      {"data":{"name":"FM"},"transform":[{"window":[{"op":"row_number","as":"rn"}]},{"window":[{"op":"percent_rank","as":"j"}],"groupby":["g"],"sort":[{"field":"rn"}]}],
       "mark":{"type":"circle","size":7,"color":"#000000","opacity":1},
       "encoding":{"xOffset":{"field":"j","type":"quantitative","scale":{"domain":[-0.125,1.125]}},"y":{"field":"v","type":"quantitative","title":null,"scale":{"domain":[0.845,1.0698],"nice":false,"zero":false}}}}
     ]},
    {"data":{"values":[{"s":"Male"}]},"mark":{"type":"text","opacity":0},"encoding":{"text":{"field":"s","type":"nominal"},"x":{"field":"s","type":"nominal","scale":{"type":"band"},"axis":{"orient":"top","title":"Male","titleY":0,"titleBaseline":"middle","titleFontSize":10,"titleColor":"#1A1A1A","titlePadding":0,"labels":false,"ticks":false,"domain":true,"domainColor":"#D9D9D9","domainWidth":12,"offset":7,"grid":false}}}}
   ]}
 ]}
],"spacing":19,"resolve":{"scale":{"fill":"independent","xOffset":"independent"}}}
],
"spacing":16,"resolve":{"scale":{"fill":"independent","xOffset":"independent"}}
}
